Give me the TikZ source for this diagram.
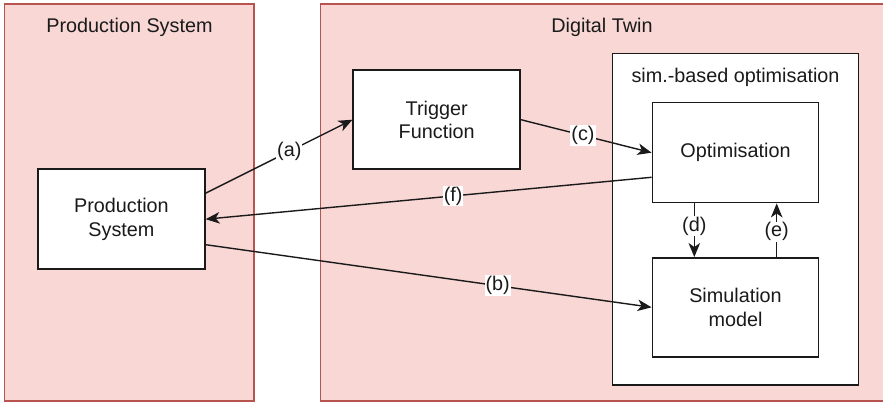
\documentclass[tikz,border=0pt]{standalone}
\usepackage{fontspec}
\setmainfont{Liberation Sans}
\usetikzlibrary{arrows.meta,calc}
\definecolor{panelfill}{HTML}{F8D7D5}
\definecolor{paneledge}{HTML}{B85450}
\definecolor{ink}{HTML}{1A1A1A}
\begin{document}
\begin{tikzpicture}[x=1pt,y=-1pt,
  every node/.style={font=\fontsize{19.8}{23.5}\selectfont, text=ink},
  panel/.style={draw=paneledge, fill=panelfill, line width=1.5pt},
  block/.style={draw=ink, fill=white, line width=1.5pt, align=center, inner sep=0pt},
  link/.style={draw=ink, line width=1.4pt, -{Stealth[length=14pt,width=11.5pt,inset=4pt]}},
  tag/.style={fill=white, inner sep=1pt}
]
\useasboundingbox (0,0) rectangle (883,403);
% grouping panels
\draw[panel] (4.5,4) rectangle (254,401);
\draw[panel] (320.7,4) rectangle (886,401);
\node (ttlps) at (129.5,27) {Production System};
\node (ttldt) at (602,27) {Digital Twin};
% simulation-based optimisation frame
\draw[block] (612.3,53.3) rectangle (858.7,385);
\node (ttlsim) at (735.5,77) {sim.-based optimisation};
% blocks
\node[block, minimum width=167pt, minimum height=100pt] (prod) at (121.4,219.2) {Production\\System};
\node[block, minimum width=167pt, minimum height=99pt] (trig) at (436.7,119.7) {Trigger\\Function};
\node[block, minimum width=166.4pt, minimum height=100pt] (opt) at (735.5,152.7) {Optimisation};
\node[block, minimum width=166.4pt, minimum height=99pt] (sim) at (735.5,307.3) {Simulation\\model};
% connectors
\draw[link] ([yshift=26pt]prod.east) -- node[tag, pos=0.57] {(a)} (trig.west);
\draw[link] ([yshift=-25.5pt]prod.east) -- node[tag, pos=0.655] {(b)} (sim.west);
\draw[link] (trig.east) -- node[tag, pos=0.475] {(c)} (opt.west);
\draw[link] ([xshift=-41.2pt]opt.south) -- node[tag, pos=0.42] {(d)} ([xshift=-41.2pt]sim.north);
\draw[link] ([xshift=41.2pt]sim.north) -- node[tag, pos=0.47] {(e)} ([xshift=41.2pt]opt.south);
\draw[link] ([yshift=-24.6pt]opt.west) -- node[tag, pos=0.445] {(f)} (prod.east);
\end{tikzpicture}
\end{document}
